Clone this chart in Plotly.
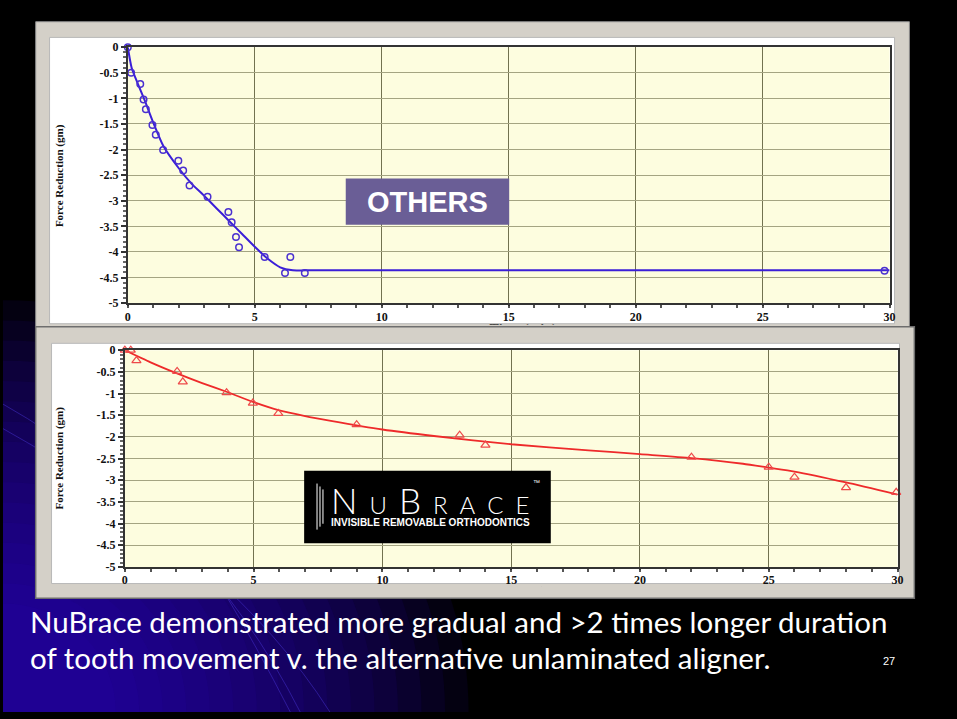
import plotly.graph_objects as go

# ---------------- data ----------------
x_ticks = [0, 5, 10, 15, 20, 25, 30]
x_tick_labels = ["0", "5", "10", "15", "20", "25", "30"]
y_ticks = [0, -0.5, -1, -1.5, -2, -2.5, -3, -3.5, -4, -4.5, -5]
y_tick_labels = ["0", "-0.5", "-1", "-1.5", "-2", "-2.5", "-3", "-3.5", "-4", "-4.5", "-5"]

# OTHERS (upper chart): measured points and fitted curve
others_time = [0, 0.13, 0.49, 0.62, 0.71, 0.97, 1.1, 1.39, 1.99, 2.18, 2.43, 3.14,
               3.96, 4.09, 4.26, 4.38, 5.39, 6.19, 6.4, 6.97, 29.8]
others_force = [0, -0.5, -0.72, -1.02, -1.21, -1.52, -1.71, -2.01, -2.22, -2.41, -2.70, -2.92,
                -3.22, -3.42, -3.71, -3.91, -4.10, -4.41, -4.10, -4.41, -4.37]
others_fit_time = [0, 0.15, 0.4, 0.65, 1.0, 1.4, 2.0, 2.5, 3.0, 3.5, 4.0, 4.5, 5.0, 5.5,
                   6.0, 6.5, 7.0, 30]
others_fit_force = [0, -0.40, -0.72, -1.02, -1.47, -1.93, -2.36, -2.66, -2.90, -3.15, -3.40,
                    -3.65, -3.90, -4.13, -4.30, -4.36, -4.36, -4.36]

# NuBrace (lower chart): measured points and fitted curve
nubrace_time = [0, 0.23, 0.45, 2.03, 2.25, 3.95, 4.97, 5.96, 9.0, 13.0, 14.0, 22.0, 25.0,
                26.0, 28.0, 29.95]
nubrace_force = [0, 0, -0.24, -0.49, -0.73, -0.98, -1.22, -1.46, -1.72, -1.96, -2.19, -2.47,
                 -2.70, -2.93, -3.17, -3.28]
nubrace_fit_time = [0, 1, 2, 3, 4, 5, 6, 7, 8, 10, 12, 15, 18, 20, 22, 24, 25, 26, 28, 30]
nubrace_fit_force = [0, -0.28, -0.53, -0.76, -0.97, -1.2, -1.39, -1.52, -1.63, -1.83, -1.98,
                     -2.17, -2.31, -2.40, -2.49, -2.62, -2.71, -2.80, -3.05, -3.33]

y_title = "Force Reduction (gm)"
x_title = "Time (min)"
caption_1 = "NuBrace demonstrated more gradual and >2 times longer duration"
caption_2 = "of tooth movement v. the alternative unlaminated aligner."
page_no = "27"

# ---------------- helpers ----------------
W, H = 957, 719


def px(x):
    return x / W


def py(y):
    return 1 - y / H


serif = "Liberation Serif"
fig = go.Figure()

# curves + markers
fig.add_trace(go.Scatter(x=others_fit_time, y=others_fit_force, mode="lines",
                         line=dict(color="#3b1fd8", width=2, shape="spline", smoothing=0.6),
                         xaxis="x", yaxis="y", showlegend=False, hoverinfo="skip"))
fig.add_trace(go.Scatter(x=others_time, y=others_force, mode="markers",
                         marker=dict(symbol="circle-open", size=6.5, color="#4a30d0",
                                     line=dict(width=1.5)),
                         cliponaxis=False, xaxis="x", yaxis="y", showlegend=False))
fig.add_trace(go.Scatter(x=nubrace_fit_time, y=nubrace_fit_force, mode="lines",
                         line=dict(color="#ee2a2a", width=1.8, shape="spline", smoothing=0.6),
                         xaxis="x2", yaxis="y2", showlegend=False, hoverinfo="skip"))
fig.add_trace(go.Scatter(x=nubrace_time, y=nubrace_force, mode="markers",
                         marker=dict(symbol="triangle-up-open", size=8, color="#ee4a4a",
                                     line=dict(width=1.2)),
                         cliponaxis=False, xaxis="x2", yaxis="y2", showlegend=False))

# partially hidden x-axis titles (clipped by frame edge)
fig.add_trace(go.Scatter(x=[525], y=[329.5], mode="text", text=[x_title],
                         textposition="middle center",
                         textfont=dict(family=serif, size=14, color="#222", weight="bold"),
                         cliponaxis=True, xaxis="x3", yaxis="y3", showlegend=False,
                         hoverinfo="skip"))
fig.add_trace(go.Scatter(x=[514], y=[598], mode="text", text=[x_title],
                         textposition="middle center",
                         textfont=dict(family=serif, size=14, color="#222", weight="bold"),
                         cliponaxis=True, xaxis="x4", yaxis="y4", showlegend=False,
                         hoverinfo="skip"))


def xax(domain, anchor):
    return dict(domain=domain, anchor=anchor, range=[0, 30], tickmode="array",
                tickvals=x_ticks, ticktext=x_tick_labels,
                tickfont=dict(family=serif, size=12, color="#111", weight="bold"),
                ticks="outside", ticklen=1, tickcolor="#333", tickwidth=1.5,
                showgrid=True, gridcolor="#727250", gridwidth=1.4,
                showline=True, linecolor="#333", linewidth=2, mirror=True,
                zeroline=False, fixedrange=True,
                minor=dict(dtick=1, ticks="outside", ticklen=3, tickcolor="#555",
                           showgrid=False))


def yax(domain, anchor):
    return dict(domain=domain, anchor=anchor, range=[-5, 0], tickmode="array",
                tickvals=y_ticks, ticktext=y_tick_labels,
                tickfont=dict(family=serif, size=12, color="#111", weight="bold"),
                ticks="outside", ticklen=5, tickcolor="#333", tickwidth=1.5,
                showgrid=True, gridcolor="#a4a482", gridwidth=1,
                showline=True, linecolor="#333", linewidth=2, mirror=True,
                zeroline=False, fixedrange=True,
                minor=dict(dtick=0.1, ticks="outside", ticklen=3, tickcolor="#666",
                           showgrid=False))


hidden = dict(visible=False, showgrid=False, zeroline=False, fixedrange=True)

shapes = []
# blue gradient glow in the bottom-left corner
n_glow = 16
for i in range(n_glow):
    f = 1 - i / n_glow
    rx, ry = 90 + 380 * f, 90 + 330 * f
    path = (f"M {px(0)},{py(H - ry)} C {px(0.552 * rx)},{py(H - ry)} "
            f"{px(rx)},{py(H - 0.552 * ry)} {px(rx)},{py(H)} L {px(0)},{py(H)} Z")
    shapes.append(dict(type="path", xref="paper", yref="paper", path=path,
                       fillcolor="rgba(50,16,196,0.085)", line=dict(width=0), layer="below"))
# thin decorative swoosh lines
for (a, b, c) in [((0, 405), (200, 520), (300, 719)), ((0, 430), (230, 560), (330, 719)),
                  ((225, 600), (255, 650), (290, 719))]:
    path = (f"M {px(a[0])},{py(a[1])} Q {px(b[0])},{py(b[1])} {px(c[0])},{py(c[1])}")
    shapes.append(dict(type="path", xref="paper", yref="paper", path=path,
                       line=dict(color="rgba(70,50,210,0.5)", width=1), layer="below"))


def rect(x0, y0, x1, y1, fill, line_color=None, lw=0, layer="below"):
    return dict(type="rect", xref="paper", yref="paper", x0=px(x0), x1=px(x1),
                y0=py(y1), y1=py(y0), fillcolor=fill,
                line=dict(color=line_color or fill, width=lw), layer=layer)


# chart frames
shapes.append(rect(33, 15, 915, 330, "#d4d0c8", "#8c8c8c", 1))
shapes.append(rect(47, 31, 900, 323, "#ffffff", "#b8b8b8", 1))
shapes.append(rect(33, 326, 920, 603, "#d4d0c8", "#6e6e6e", 1.5))
shapes.append(rect(49, 343, 905, 588, "#ffffff", "#b8b8b8", 1))
# plot backgrounds
for xr, yr in [("x domain", "y domain"), ("x2 domain", "y2 domain")]:
    shapes.append(dict(type="rect", xref=xr, yref=yr, x0=0, x1=1, y0=0, y1=1,
                       fillcolor="#fdfddf", line=dict(width=0), layer="below"))
# OTHERS label box
shapes.append(rect(346, 175, 511, 222, "#6a5e96", layer="above"))
# NuBrace logo box
shapes.append(rect(304, 473, 553, 547, "#000000", layer="above"))
for x, ya, yb in [(317, 486, 533), (320, 489, 530), (323, 492, 527)]:
    shapes.append(dict(type="line", xref="paper", yref="paper", x0=px(x), x1=px(x),
                       y0=py(yb), y1=py(ya), line=dict(color="#ffffff", width=1),
                       layer="above"))


def ann(x, y, text, font, xanchor="center", **kw):
    return dict(xref="paper", yref="paper", x=px(x), y=py(y), text=text, showarrow=False,
                font=font, xanchor=xanchor, yanchor="middle", **kw)


sc = "font-size:24px"
logo = (f"N<span style='{sc}'>\u2002U\u2002</span>B"
        f"<span style='{sc}'>\u2002R\u2002A\u2002C\u2002E</span>")

annotations = [
    ann(428.5, 198.5, "<b>OTHERS</b>",
        dict(family="Liberation Sans", size=29, color="#ffffff")),
    ann(431.5, 503, logo, dict(family="Lato", size=35, color="#ffffff", weight=300)),
    ann(432, 526, "INVISIBLE REMOVABLE ORTHODONTICS",
        dict(family="Liberation Sans", size=10, color="#ffffff", weight="bold")),
    ann(539, 485, "™", dict(family="Liberation Sans", size=7, color="#ffffff")),
    ann(57, 172, y_title, dict(family=serif, size=11, color="#111", weight="bold"),
        textangle=-90),
    ann(57, 460, y_title, dict(family=serif, size=11, color="#111", weight="bold"),
        textangle=-90),
    ann(25, 627, caption_1, dict(family="Lato", size=29.5, color="#ffffff"), xanchor="left"),
    ann(25, 663, caption_2, dict(family="Lato", size=29.5, color="#ffffff"), xanchor="left"),
    ann(894, 667, page_no, dict(family="Liberation Sans", size=11, color="#ffffff")),
]

fig.update_layout(
    width=W, height=H, autosize=False,
    margin=dict(l=0, r=0, t=0, b=0, pad=0),
    paper_bgcolor="#000000", plot_bgcolor="rgba(0,0,0,0)",
    showlegend=False, hovermode=False,
    xaxis=xax([px(126), px(895)], "y"),
    yaxis=yax([py(302), py(41)], "x"),
    xaxis2=xax([px(123), px(903)], "y2"),
    yaxis2=yax([py(571), py(350)], "x2"),
    xaxis3=dict(domain=[px(380), px(680)], anchor="y3", range=[380, 680], **hidden),
    yaxis3=dict(domain=[py(324), py(300)], anchor="x3", range=[324, 300], **hidden),
    xaxis4=dict(domain=[px(380), px(680)], anchor="y4", range=[380, 680], **hidden),
    yaxis4=dict(domain=[py(591), py(575)], anchor="x4", range=[591, 575], **hidden),
    shapes=shapes, annotations=annotations,
)

fig.write_html("out.html", config={"displayModeBar": False},
               post_script="document.body.style.margin='0';"
                           "document.body.style.overflow='hidden';"
                           "document.body.style.background='#000';")
